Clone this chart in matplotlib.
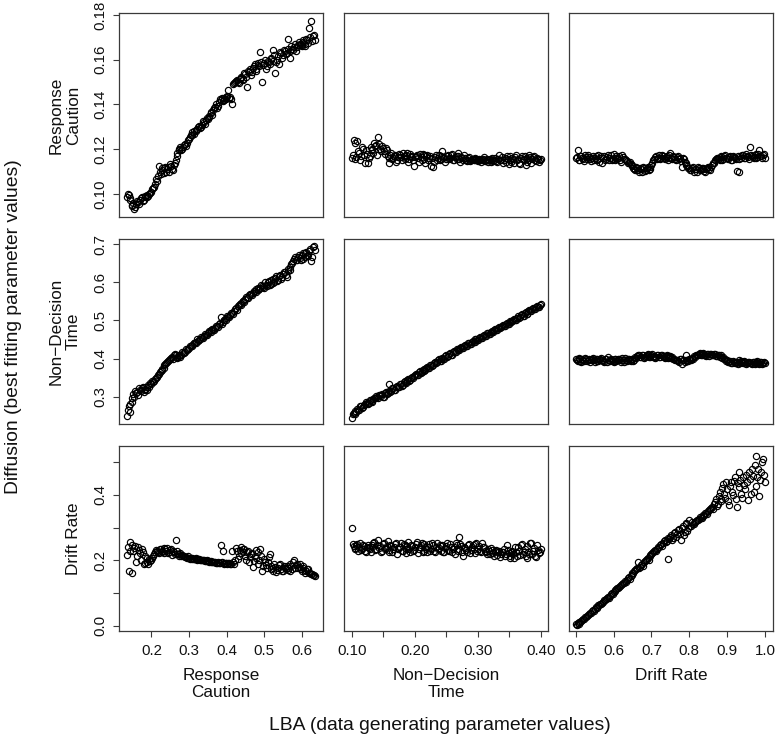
import matplotlib
matplotlib.use("Agg")
import matplotlib.pyplot as plt

plt.rcParams['font.family'] = ['Liberation Sans', 'DejaVu Sans']

# ---------------- data: LBA generating values (two sample sets per column) ----------------
x_caution = [0.134,0.139,0.144,0.149,0.154,0.159,0.164,0.169,0.174,0.179,
             0.184,0.189,0.194,0.199,0.204,0.209,0.214,0.219,0.224,0.229,
             0.234,0.239,0.244,0.249,0.254,0.259,0.264,0.269,0.274,0.279,
             0.284,0.289,0.294,0.299,0.304,0.309,0.314,0.319,0.324,0.329,
             0.334,0.339,0.344,0.349,0.354,0.359,0.364,0.369,0.374,0.379,
             0.384,0.389,0.394,0.399,0.404,0.409,0.414,0.419,0.424,0.429,
             0.434,0.439,0.444,0.449,0.454,0.459,0.464,0.469,0.474,0.479,
             0.484,0.489,0.494,0.499,0.504,0.509,0.514,0.519,0.524,0.529,
             0.534,0.539,0.544,0.549,0.554,0.559,0.564,0.569,0.574,0.579,
             0.584,0.589,0.594,0.599,0.604,0.609,0.614,0.619,0.624,0.629,
             0.634]
x_caution_b = [0.137,0.142,0.147,0.152,0.157,0.162,0.167,0.172,0.177,0.182,
               0.187,0.192,0.197,0.202,0.207,0.212,0.217,0.222,0.227,0.232,
               0.237,0.242,0.247,0.252,0.257,0.262,0.267,0.272,0.277,0.282,
               0.287,0.292,0.297,0.302,0.307,0.312,0.317,0.322,0.327,0.332,
               0.337,0.342,0.347,0.352,0.357,0.362,0.367,0.372,0.377,0.382,
               0.387,0.392,0.397,0.402,0.407,0.412,0.417,0.422,0.427,0.432,
               0.437,0.442,0.447,0.452,0.457,0.462,0.467,0.472,0.477,0.482,
               0.487,0.492,0.497,0.502,0.507,0.512,0.517,0.522,0.527,0.532,
               0.537,0.542,0.547,0.552,0.557,0.562,0.567,0.572,0.577,0.582,
               0.587,0.592,0.597,0.602,0.607,0.612,0.617,0.622,0.627,0.632]
x_ndt = [0.100,0.103,0.106,0.109,0.112,0.115,0.118,0.121,0.124,0.127,
         0.130,0.133,0.136,0.139,0.142,0.145,0.148,0.151,0.154,0.157,
         0.160,0.163,0.166,0.169,0.172,0.175,0.178,0.181,0.184,0.187,
         0.190,0.193,0.196,0.199,0.202,0.205,0.208,0.211,0.214,0.217,
         0.220,0.223,0.226,0.229,0.232,0.235,0.238,0.241,0.244,0.247,
         0.250,0.253,0.256,0.259,0.262,0.265,0.268,0.271,0.274,0.277,
         0.280,0.283,0.286,0.289,0.292,0.295,0.298,0.301,0.304,0.307,
         0.310,0.313,0.316,0.319,0.322,0.325,0.328,0.331,0.334,0.337,
         0.340,0.343,0.346,0.349,0.352,0.355,0.358,0.361,0.364,0.367,
         0.370,0.373,0.376,0.379,0.382,0.385,0.388,0.391,0.394,0.397,
         0.400]
x_ndt_b = [0.1015,0.1045,0.1075,0.1105,0.1135,0.1165,0.1195,0.1225,0.1255,0.1285,
           0.1315,0.1345,0.1375,0.1405,0.1435,0.1465,0.1495,0.1525,0.1555,0.1585,
           0.1615,0.1645,0.1675,0.1705,0.1735,0.1765,0.1795,0.1825,0.1855,0.1885,
           0.1915,0.1945,0.1975,0.2005,0.2035,0.2065,0.2095,0.2125,0.2155,0.2185,
           0.2215,0.2245,0.2275,0.2305,0.2335,0.2365,0.2395,0.2425,0.2455,0.2485,
           0.2515,0.2545,0.2575,0.2605,0.2635,0.2665,0.2695,0.2725,0.2755,0.2785,
           0.2815,0.2845,0.2875,0.2905,0.2935,0.2965,0.2995,0.3025,0.3055,0.3085,
           0.3115,0.3145,0.3175,0.3205,0.3235,0.3265,0.3295,0.3325,0.3355,0.3385,
           0.3415,0.3445,0.3475,0.3505,0.3535,0.3565,0.3595,0.3625,0.3655,0.3685,
           0.3715,0.3745,0.3775,0.3805,0.3835,0.3865,0.3895,0.3925,0.3955,0.3985]
x_drift = [0.500,0.505,0.510,0.515,0.520,0.525,0.530,0.535,0.540,0.545,
           0.550,0.555,0.560,0.565,0.570,0.575,0.580,0.585,0.590,0.595,
           0.600,0.605,0.610,0.615,0.620,0.625,0.630,0.635,0.640,0.645,
           0.650,0.655,0.660,0.665,0.670,0.675,0.680,0.685,0.690,0.695,
           0.700,0.705,0.710,0.715,0.720,0.725,0.730,0.735,0.740,0.745,
           0.750,0.755,0.760,0.765,0.770,0.775,0.780,0.785,0.790,0.795,
           0.800,0.805,0.810,0.815,0.820,0.825,0.830,0.835,0.840,0.845,
           0.850,0.855,0.860,0.865,0.870,0.875,0.880,0.885,0.890,0.895,
           0.900,0.905,0.910,0.915,0.920,0.925,0.930,0.935,0.940,0.945,
           0.950,0.955,0.960,0.965,0.970,0.975,0.980,0.985,0.990,0.995,
           1.000]
x_drift_b = [0.5025,0.5075,0.5125,0.5175,0.5225,0.5275,0.5325,0.5375,0.5425,0.5475,
             0.5525,0.5575,0.5625,0.5675,0.5725,0.5775,0.5825,0.5875,0.5925,0.5975,
             0.6025,0.6075,0.6125,0.6175,0.6225,0.6275,0.6325,0.6375,0.6425,0.6475,
             0.6525,0.6575,0.6625,0.6675,0.6725,0.6775,0.6825,0.6875,0.6925,0.6975,
             0.7025,0.7075,0.7125,0.7175,0.7225,0.7275,0.7325,0.7375,0.7425,0.7475,
             0.7525,0.7575,0.7625,0.7675,0.7725,0.7775,0.7825,0.7875,0.7925,0.7975,
             0.8025,0.8075,0.8125,0.8175,0.8225,0.8275,0.8325,0.8375,0.8425,0.8475,
             0.8525,0.8575,0.8625,0.8675,0.8725,0.8775,0.8825,0.8875,0.8925,0.8975,
             0.9025,0.9075,0.9125,0.9175,0.9225,0.9275,0.9325,0.9375,0.9425,0.9475,
             0.9525,0.9575,0.9625,0.9675,0.9725,0.9775,0.9825,0.9875,0.9925,0.9975]

# ---------------- data: diffusion estimates (rows) vs LBA parameter (columns) ----------------
caution_vs_caution = [0.0985,0.0995,0.0975,0.0945,0.0935,0.0955,0.0965,0.0975,0.0985,0.0975,
                      0.0990,0.0985,0.1000,0.1010,0.1025,0.1045,0.1060,0.1125,0.1090,0.1105,
                      0.1115,0.1100,0.1120,0.1135,0.1110,0.1130,0.1150,0.1185,0.1200,0.1195,
                      0.1210,0.1225,0.1230,0.1245,0.1265,0.1275,0.1270,0.1285,0.1300,0.1295,
                      0.1310,0.1320,0.1330,0.1335,0.1350,0.1365,0.1375,0.1390,0.1385,0.1410,
                      0.1420,0.1415,0.1430,0.1425,0.1465,0.1435,0.1400,0.1495,0.1505,0.1500,
                      0.1515,0.1525,0.1510,0.1535,0.1480,0.1545,0.1530,0.1565,0.1580,0.1550,
                      0.1575,0.1635,0.1500,0.1585,0.1560,0.1595,0.1580,0.1605,0.1645,0.1540,
                      0.1600,0.1580,0.1630,0.1620,0.1640,0.1630,0.1695,0.1610,0.1650,0.1655,
                      0.1640,0.1665,0.1670,0.1660,0.1680,0.1670,0.1690,0.1740,0.1775,0.1705,
                      0.1690]
caution_vs_caution_b = [0.1000,0.0980,0.0950,0.0960,0.0940,0.0970,0.0955,0.0980,0.0970,0.0985,
                        0.0995,0.0990,0.1005,0.1020,0.1030,0.1065,0.1080,0.1100,0.1115,0.1095,
                        0.1120,0.1110,0.1100,0.1125,0.1105,0.1140,0.1170,0.1195,0.1210,0.1200,
                        0.1220,0.1215,0.1240,0.1255,0.1265,0.1280,0.1280,0.1290,0.1305,0.1300,
                        0.1325,0.1315,0.1340,0.1345,0.1360,0.1355,0.1385,0.1400,0.1395,0.1425,
                        0.1430,0.1420,0.1435,0.1440,0.1430,0.1425,0.1490,0.1500,0.1510,0.1495,
                        0.1520,0.1515,0.1540,0.1525,0.1550,0.1560,0.1545,0.1570,0.1560,0.1585,
                        0.1570,0.1590,0.1575,0.1600,0.1570,0.1590,0.1610,0.1595,0.1620,0.1590,
                        0.1615,0.1635,0.1610,0.1645,0.1625,0.1650,0.1640,0.1660,0.1645,0.1670,
                        0.1655,0.1680,0.1665,0.1690,0.1660,0.1695,0.1675,0.1700,0.1685,0.1710]
caution_vs_ndt = [0.1160,0.1240,0.1155,0.1235,0.1185,0.1170,0.1200,0.1140,0.1180,0.1160,
                  0.1210,0.1195,0.1230,0.1220,0.1255,0.1200,0.1215,0.1190,0.1205,0.1170,
                  0.1140,0.1185,0.1160,0.1175,0.1150,0.1180,0.1165,0.1185,0.1155,0.1175,
                  0.1145,0.1180,0.1165,0.1125,0.1170,0.1160,0.1178,0.1150,0.1172,0.1140,
                  0.1175,0.1160,0.1125,0.1122,0.1165,0.1150,0.1172,0.1158,0.1190,0.1165,
                  0.1155,0.1175,0.1160,0.1180,0.1150,0.1170,0.1185,0.1155,0.1165,0.1150,
                  0.1160,0.1148,0.1165,0.1152,0.1158,0.1150,0.1155,0.1148,0.1152,0.1150,
                  0.1165,0.1150,0.1145,0.1155,0.1150,0.1148,0.1160,0.1142,0.1175,0.1150,
                  0.1140,0.1160,0.1170,0.1135,0.1150,0.1160,0.1140,0.1172,0.1155,0.1135,
                  0.1170,0.1150,0.1130,0.1160,0.1175,0.1140,0.1165,0.1150,0.1160,0.1145,
                  0.1155]
caution_vs_ndt_b = [0.1175,0.1230,0.1165,0.1190,0.1150,0.1210,0.1175,0.1195,0.1140,0.1170,
                    0.1200,0.1185,0.1215,0.1175,0.1225,0.1190,0.1205,0.1180,0.1195,0.1160,
                    0.1175,0.1155,0.1170,0.1145,0.1165,0.1175,0.1150,0.1170,0.1160,0.1185,
                    0.1155,0.1170,0.1150,0.1165,0.1175,0.1145,0.1165,0.1180,0.1155,0.1168,
                    0.1150,0.1170,0.1160,0.1145,0.1175,0.1160,0.1150,0.1170,0.1162,0.1145,
                    0.1168,0.1158,0.1172,0.1150,0.1165,0.1155,0.1170,0.1145,0.1160,0.1172,
                    0.1152,0.1162,0.1148,0.1158,0.1150,0.1162,0.1152,0.1158,0.1145,0.1155,
                    0.1148,0.1158,0.1152,0.1145,0.1160,0.1152,0.1148,0.1155,0.1150,0.1165,
                    0.1152,0.1145,0.1158,0.1168,0.1142,0.1155,0.1165,0.1150,0.1140,0.1162,
                    0.1155,0.1168,0.1145,0.1150,0.1165,0.1155,0.1170,0.1148,0.1158,0.1150]
caution_vs_drift = [0.1160,0.1195,0.1150,0.1168,0.1155,0.1172,0.1158,0.1165,0.1148,0.1170,
                    0.1160,0.1152,0.1175,0.1162,0.1140,0.1168,0.1156,0.1172,0.1160,0.1150,
                    0.1178,0.1162,0.1155,0.1170,0.1145,0.1165,0.1158,0.1148,0.1140,0.1132,
                    0.1125,0.1110,0.1120,0.1105,0.1115,0.1100,0.1118,0.1108,0.1122,0.1112,
                    0.1130,0.1150,0.1165,0.1158,0.1172,0.1162,0.1168,0.1155,0.1170,0.1160,
                    0.1182,0.1158,0.1166,0.1150,0.1170,0.1162,0.1120,0.1155,0.1140,0.1125,
                    0.1115,0.1105,0.1120,0.1110,0.1100,0.1118,0.1108,0.1115,0.1102,0.1112,
                    0.1122,0.1108,0.1130,0.1140,0.1155,0.1162,0.1150,0.1168,0.1158,0.1172,
                    0.1160,0.1165,0.1152,0.1170,0.1162,0.1102,0.1100,0.1168,0.1175,0.1160,
                    0.1178,0.1165,0.1210,0.1170,0.1160,0.1178,0.1165,0.1195,0.1168,0.1175,
                    0.1160]
caution_vs_drift_b = [0.1165,0.1152,0.1170,0.1160,0.1148,0.1165,0.1175,0.1155,0.1162,0.1150,
                      0.1168,0.1158,0.1145,0.1170,0.1160,0.1152,0.1166,0.1150,0.1172,0.1158,
                      0.1150,0.1168,0.1160,0.1152,0.1172,0.1155,0.1150,0.1138,0.1145,0.1128,
                      0.1118,0.1105,0.1115,0.1098,0.1110,0.1120,0.1102,0.1115,0.1105,0.1120,
                      0.1140,0.1158,0.1168,0.1162,0.1155,0.1175,0.1160,0.1165,0.1150,0.1172,
                      0.1162,0.1168,0.1155,0.1165,0.1158,0.1148,0.1160,0.1145,0.1130,0.1118,
                      0.1108,0.1115,0.1100,0.1112,0.1120,0.1105,0.1115,0.1110,0.1098,0.1118,
                      0.1110,0.1120,0.1138,0.1150,0.1160,0.1155,0.1165,0.1152,0.1170,0.1162,
                      0.1158,0.1168,0.1150,0.1165,0.1158,0.1170,0.1155,0.1162,0.1172,0.1160,
                      0.1168,0.1155,0.1175,0.1165,0.1172,0.1160,0.1180,0.1170,0.1162,0.1178]
ndt_vs_caution = [0.250,0.275,0.260,0.285,0.300,0.310,0.305,0.318,0.322,0.312,
                  0.320,0.318,0.326,0.332,0.338,0.345,0.352,0.360,0.366,0.372,
                  0.382,0.388,0.393,0.398,0.404,0.410,0.408,0.402,0.406,0.410,
                  0.414,0.418,0.422,0.428,0.432,0.436,0.441,0.444,0.447,0.451,
                  0.455,0.459,0.462,0.466,0.470,0.474,0.476,0.480,0.485,0.490,
                  0.510,0.495,0.500,0.506,0.510,0.514,0.520,0.526,0.532,0.537,
                  0.542,0.547,0.552,0.556,0.560,0.566,0.570,0.572,0.578,0.582,
                  0.580,0.586,0.590,0.584,0.594,0.600,0.592,0.605,0.598,0.612,
                  0.604,0.618,0.610,0.622,0.628,0.615,0.630,0.640,0.650,0.662,
                  0.658,0.668,0.664,0.672,0.662,0.676,0.670,0.682,0.655,0.692,
                  0.686]
ndt_vs_caution_b = [0.265,0.280,0.295,0.308,0.315,0.312,0.322,0.316,0.325,0.318,
                    0.324,0.330,0.335,0.342,0.340,0.350,0.356,0.364,0.370,0.376,
                    0.386,0.390,0.397,0.402,0.400,0.412,0.404,0.410,0.404,0.416,
                    0.414,0.424,0.424,0.434,0.432,0.442,0.440,0.450,0.448,0.456,
                    0.454,0.464,0.462,0.472,0.470,0.478,0.476,0.486,0.484,0.494,
                    0.490,0.502,0.500,0.512,0.508,0.520,0.518,0.530,0.528,0.540,
                    0.540,0.550,0.548,0.562,0.560,0.570,0.566,0.578,0.574,0.586,
                    0.582,0.594,0.588,0.600,0.590,0.604,0.596,0.610,0.600,0.616,
                    0.606,0.620,0.614,0.626,0.620,0.636,0.632,0.648,0.656,0.666,
                    0.660,0.672,0.660,0.676,0.666,0.680,0.672,0.688,0.668,0.696]
ndt_vs_ndt = [0.245,0.258,0.254,0.268,0.266,0.276,0.272,0.280,0.284,0.282,
              0.292,0.288,0.296,0.302,0.296,0.304,0.306,0.300,0.312,0.310,
              0.333,0.316,0.322,0.318,0.328,0.326,0.334,0.330,0.340,0.338,
              0.346,0.344,0.352,0.354,0.360,0.358,0.366,0.364,0.372,0.370,
              0.378,0.376,0.384,0.382,0.390,0.392,0.398,0.394,0.402,0.400,
              0.408,0.406,0.414,0.410,0.420,0.416,0.426,0.422,0.430,0.428,
              0.436,0.432,0.442,0.438,0.446,0.444,0.452,0.448,0.457,0.455,
              0.462,0.458,0.468,0.464,0.472,0.470,0.478,0.474,0.482,0.482,
              0.488,0.486,0.494,0.490,0.499,0.498,0.504,0.500,0.511,0.508,
              0.516,0.512,0.522,0.518,0.528,0.524,0.533,0.530,0.538,0.536,
              0.542]
ndt_vs_ndt_b = [0.254,0.262,0.260,0.264,0.274,0.270,0.279,0.286,0.280,0.290,
                0.287,0.294,0.296,0.298,0.303,0.302,0.300,0.309,0.307,0.314,
                0.312,0.322,0.317,0.326,0.324,0.332,0.329,0.338,0.336,0.344,
                0.342,0.350,0.350,0.358,0.356,0.364,0.362,0.370,0.368,0.376,
                0.374,0.382,0.380,0.388,0.388,0.396,0.394,0.400,0.398,0.406,
                0.404,0.412,0.410,0.418,0.416,0.424,0.422,0.428,0.427,0.434,
                0.432,0.440,0.438,0.444,0.443,0.450,0.448,0.454,0.454,0.460,
                0.458,0.466,0.464,0.470,0.469,0.476,0.474,0.480,0.479,0.486,
                0.485,0.492,0.490,0.496,0.496,0.502,0.500,0.507,0.507,0.514,
                0.512,0.519,0.518,0.525,0.524,0.530,0.529,0.536,0.535,0.540]
ndt_vs_drift = [0.398,0.394,0.400,0.392,0.397,0.402,0.393,0.399,0.395,0.401,
                0.391,0.398,0.394,0.400,0.396,0.392,0.399,0.403,0.394,0.397,
                0.391,0.398,0.395,0.400,0.392,0.396,0.401,0.393,0.398,0.394,
                0.399,0.396,0.402,0.408,0.404,0.410,0.402,0.407,0.411,0.403,
                0.409,0.405,0.401,0.408,0.404,0.410,0.406,0.402,0.409,0.405,
                0.407,0.403,0.400,0.397,0.394,0.399,0.385,0.396,0.410,0.393,
                0.398,0.395,0.400,0.404,0.408,0.412,0.409,0.414,0.410,0.406,
                0.413,0.411,0.408,0.412,0.407,0.410,0.405,0.409,0.403,0.400,
                0.397,0.392,0.389,0.394,0.387,0.391,0.395,0.388,0.390,0.393,
                0.386,0.392,0.389,0.385,0.391,0.388,0.394,0.386,0.390,0.387,
                0.389]
ndt_vs_drift_b = [0.396,0.401,0.393,0.398,0.394,0.400,0.397,0.392,0.398,0.395,
                  0.399,0.393,0.397,0.401,0.394,0.398,0.392,0.396,0.400,0.393,
                  0.398,0.394,0.399,0.395,0.401,0.392,0.397,0.400,0.395,0.398,
                  0.393,0.404,0.406,0.409,0.403,0.408,0.405,0.410,0.404,0.407,
                  0.411,0.406,0.403,0.408,0.405,0.409,0.404,0.407,0.402,0.406,
                  0.401,0.398,0.395,0.397,0.392,0.398,0.395,0.390,0.397,0.394,
                  0.399,0.402,0.406,0.409,0.410,0.414,0.408,0.412,0.409,0.411,
                  0.407,0.413,0.409,0.411,0.406,0.408,0.404,0.401,0.398,0.394,
                  0.390,0.393,0.388,0.392,0.389,0.386,0.391,0.394,0.387,0.390,
                  0.388,0.392,0.387,0.390,0.386,0.392,0.388,0.391,0.385,0.390]
drift_vs_caution = [0.216,0.168,0.255,0.160,0.238,0.196,0.240,0.222,0.236,0.188,
                    0.212,0.196,0.205,0.200,0.212,0.226,0.230,0.222,0.234,0.226,
                    0.238,0.228,0.222,0.232,0.216,0.226,0.262,0.220,0.218,0.214,
                    0.212,0.210,0.208,0.207,0.206,0.205,0.204,0.203,0.203,0.202,
                    0.201,0.200,0.199,0.198,0.197,0.196,0.195,0.194,0.193,0.193,
                    0.246,0.230,0.192,0.191,0.191,0.190,0.229,0.190,0.238,0.205,
                    0.232,0.222,0.236,0.212,0.226,0.196,0.220,0.180,0.214,0.232,
                    0.190,0.234,0.168,0.205,0.186,0.196,0.218,0.172,0.166,0.180,
                    0.170,0.186,0.174,0.168,0.178,0.182,0.170,0.188,0.175,0.202,
                    0.186,0.178,0.190,0.168,0.176,0.162,0.172,0.160,0.158,0.154,
                    0.152]
drift_vs_caution_b = [0.240,0.228,0.248,0.230,0.244,0.214,0.232,0.200,0.224,0.192,
                      0.208,0.190,0.198,0.208,0.218,0.232,0.226,0.236,0.230,0.222,
                      0.234,0.238,0.226,0.236,0.228,0.220,0.230,0.214,0.222,0.216,
                      0.214,0.210,0.212,0.205,0.208,0.203,0.206,0.201,0.204,0.200,
                      0.202,0.198,0.200,0.196,0.198,0.194,0.196,0.192,0.195,0.192,
                      0.194,0.190,0.193,0.189,0.192,0.188,0.194,0.200,0.228,0.214,
                      0.240,0.226,0.234,0.200,0.228,0.210,0.222,0.198,0.208,0.224,
                      0.200,0.212,0.184,0.194,0.176,0.210,0.184,0.176,0.190,0.164,
                      0.178,0.190,0.166,0.184,0.172,0.178,0.166,0.182,0.194,0.176,
                      0.190,0.180,0.174,0.184,0.170,0.166,0.174,0.162,0.158,0.156]
drift_vs_ndt = [0.300,0.244,0.236,0.250,0.240,0.232,0.246,0.228,0.242,0.238,
                0.226,0.248,0.256,0.236,0.262,0.244,0.230,0.252,0.238,0.258,
                0.226,0.244,0.234,0.250,0.220,0.240,0.252,0.228,0.246,0.236,
                0.256,0.226,0.244,0.232,0.250,0.222,0.240,0.254,0.230,0.242,
                0.226,0.250,0.236,0.246,0.224,0.252,0.238,0.230,0.248,0.224,
                0.244,0.232,0.250,0.226,0.240,0.254,0.228,0.270,0.244,0.212,
                0.238,0.226,0.250,0.232,0.246,0.222,0.254,0.236,0.228,0.252,
                0.240,0.224,0.236,0.218,0.232,0.222,0.230,0.216,0.228,0.220,
                0.226,0.214,0.246,0.222,0.212,0.230,0.208,0.224,0.240,0.216,
                0.250,0.226,0.212,0.244,0.220,0.252,0.230,0.214,0.246,0.222,
                0.236]
drift_vs_ndt_b = [0.250,0.238,0.246,0.230,0.252,0.236,0.244,0.226,0.248,0.234,
                  0.242,0.254,0.232,0.246,0.238,0.224,0.250,0.236,0.244,0.232,
                  0.248,0.226,0.240,0.254,0.234,0.242,0.230,0.250,0.222,0.244,
                  0.236,0.248,0.228,0.240,0.256,0.234,0.246,0.226,0.250,0.236,
                  0.242,0.230,0.254,0.228,0.240,0.234,0.248,0.244,0.226,0.238,
                  0.252,0.230,0.242,0.236,0.220,0.246,0.234,0.250,0.226,0.240,
                  0.232,0.246,0.222,0.242,0.236,0.250,0.230,0.244,0.226,0.240,
                  0.230,0.218,0.228,0.238,0.222,0.214,0.232,0.224,0.210,0.226,
                  0.236,0.220,0.232,0.206,0.226,0.218,0.240,0.212,0.228,0.248,
                  0.220,0.236,0.208,0.226,0.254,0.218,0.238,0.210,0.232,0.224]
drift_vs_drift = [0.004,0.008,0.010,0.014,0.022,0.026,0.030,0.036,0.040,0.048,
                  0.052,0.054,0.062,0.066,0.070,0.078,0.082,0.088,0.092,0.100,
                  0.104,0.108,0.116,0.120,0.124,0.132,0.138,0.140,0.150,0.152,
                  0.160,0.166,0.172,0.196,0.180,0.190,0.194,0.200,0.208,0.212,
                  0.220,0.224,0.232,0.236,0.242,0.250,0.252,0.262,0.258,0.205,
                  0.272,0.262,0.284,0.270,0.292,0.280,0.300,0.276,0.314,0.290,
                  0.322,0.306,0.312,0.318,0.322,0.326,0.330,0.336,0.340,0.346,
                  0.350,0.356,0.364,0.372,0.386,0.372,0.410,0.380,0.432,0.392,
                  0.418,0.368,0.440,0.400,0.456,0.362,0.424,0.446,0.392,0.430,
                  0.462,0.384,0.448,0.478,0.410,0.520,0.456,0.398,0.470,0.510,
                  0.440]
drift_vs_drift_b = [0.002,0.006,0.012,0.018,0.020,0.028,0.034,0.038,0.044,0.046,
                    0.056,0.058,0.064,0.068,0.074,0.080,0.086,0.084,0.096,0.098,
                    0.106,0.112,0.114,0.122,0.128,0.130,0.134,0.146,0.144,0.156,
                    0.162,0.170,0.176,0.176,0.186,0.184,0.198,0.204,0.202,0.216,
                    0.222,0.228,0.230,0.240,0.246,0.244,0.258,0.256,0.268,0.264,
                    0.276,0.268,0.288,0.282,0.296,0.262,0.304,0.288,0.310,0.298,
                    0.304,0.316,0.310,0.320,0.324,0.332,0.328,0.338,0.344,0.342,
                    0.354,0.360,0.358,0.378,0.366,0.398,0.386,0.420,0.404,0.440,
                    0.380,0.426,0.410,0.444,0.388,0.436,0.470,0.402,0.454,0.418,
                    0.440,0.470,0.404,0.458,0.492,0.428,0.480,0.446,0.500,0.462]

row_labels = ["Response\nCaution", "Non\u2212Decision\nTime", "Drift Rate"]
col_labels = ["Response\nCaution", "Non\u2212Decision\nTime", "Drift Rate"]
col_x = [(x_caution, x_caution_b), (x_ndt, x_ndt_b), (x_drift, x_drift_b)]
panel_y = [[(caution_vs_caution, caution_vs_caution_b),
            (caution_vs_ndt, caution_vs_ndt_b),
            (caution_vs_drift, caution_vs_drift_b)],
           [(ndt_vs_caution, ndt_vs_caution_b),
            (ndt_vs_ndt, ndt_vs_ndt_b),
            (ndt_vs_drift, ndt_vs_drift_b)],
           [(drift_vs_caution, drift_vs_caution_b),
            (drift_vs_ndt, drift_vs_ndt_b),
            (drift_vs_drift, drift_vs_drift_b)]]

col_ticks = [[0.2, 0.3, 0.4, 0.5, 0.6],
             [0.10, 0.15, 0.20, 0.25, 0.30, 0.35, 0.40],
             [0.5, 0.6, 0.7, 0.8, 0.9, 1.0]]
col_ticklabels = [["0.2", "0.3", "0.4", "0.5", "0.6"],
                  ["0.10", "", "0.20", "", "0.30", "", "0.40"],
                  ["0.5", "0.6", "0.7", "0.8", "0.9", "1.0"]]
row_ticks = [[0.10, 0.12, 0.14, 0.16, 0.18],
             [0.3, 0.4, 0.5, 0.6, 0.7],
             [0.0, 0.1, 0.2, 0.3, 0.4, 0.5]]
row_ticklabels = [["0.10", "0.12", "0.14", "0.16", "0.18"],
                  ["0.3", "0.4", "0.5", "0.6", "0.7"],
                  ["0.0", "", "0.2", "", "0.4", ""]]

# ---------------- layout ----------------
W, H = 777, 737
fig = plt.figure(figsize=(W / 100, H / 100), dpi=100)

col_left_px = [119, 344, 569]
col_w_px = 204
row_tb_px = [(13, 217), (239, 424), (446, 631)]
col_xlim = [(0.1136, 0.656), (0.0878, 0.4116), (0.4823, 1.0211)]
row_ylim = [(0.0897, 0.1809), (0.228, 0.714), (-0.016, 0.5495)]

frame_col = "#3a3a3a"
for r in range(3):
    t, b = row_tb_px[r]
    for c in range(3):
        ax = fig.add_axes([col_left_px[c] / W, 1 - b / H, col_w_px / W, (b - t) / H])
        for xs, ys in zip(col_x[c], panel_y[r][c]):
            n = min(len(xs), len(ys))
            ax.plot(xs[:n], ys[:n], linestyle="none", marker="o", markersize=4.5,
                    markerfacecolor="none", markeredgecolor="black",
                    markeredgewidth=0.85)
        ax.set_xlim(*col_xlim[c])
        ax.set_ylim(*row_ylim[r])
        for s in ax.spines.values():
            s.set_color(frame_col)
            s.set_linewidth(0.9)
        ax.tick_params(direction="out", length=4.5, width=0.8, color=frame_col,
                       labelsize=10.8, labelcolor="#111111")
        if r == 2:
            ax.set_xticks(col_ticks[c])
            ax.set_xticklabels(col_ticklabels[c])
            ax.tick_params(axis="x", pad=5)
        else:
            ax.set_xticks([])
        if c == 0:
            ax.set_yticks(row_ticks[r])
            ax.set_yticklabels(row_ticklabels[r], rotation=90, va="center")
            ax.tick_params(axis="y", pad=4)
        else:
            ax.set_yticks([])

# row labels
for r in range(3):
    t, b = row_tb_px[r]
    fig.text(81 / W, 1 - ((t + b) / 2) / H, row_labels[r], rotation=90,
             ha="right", va="center", fontsize=12.3, multialignment="center",
             color="#111111")
# column labels
for c in range(3):
    fig.text((col_left_px[c] + col_w_px / 2) / W, 1 - 668 / H, col_labels[c],
             ha="center", va="top", fontsize=12.3, multialignment="center",
             color="#111111")

fig.text(440 / W, 1 - 725 / H, "LBA (data generating parameter values)",
         ha="center", va="center", fontsize=13.9, color="#111111")
fig.text(14 / W, 1 - 327 / H, "Diffusion (best fitting parameter values)",
         rotation=90, ha="center", va="center", fontsize=13.9, color="#111111")

fig.savefig("out.png", dpi=100)
